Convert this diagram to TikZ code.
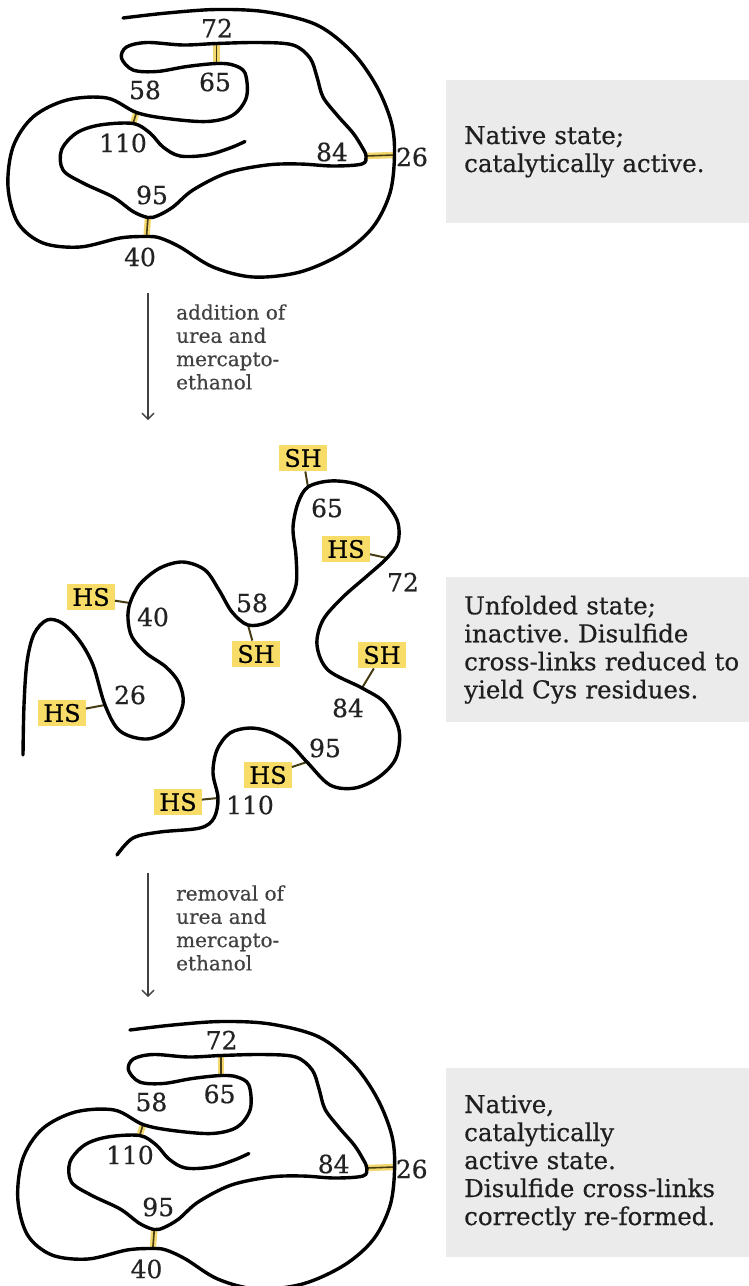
\documentclass[tikz,border=0pt]{standalone}
\usepackage{fontspec}
\setmainfont{DejaVu Serif}
\newfontfamily\printserif{DejaVu Serif}[FakeBold=0.5]
\usepackage{xcolor}
\usepackage{tikz}
\usetikzlibrary{arrows.meta, positioning}

\definecolor{boxgray}{RGB}{235,235,235}
\definecolor{thiol}{RGB}{247,221,104}
\definecolor{bridge}{RGB}{242,216,110}
\definecolor{olive}{RGB}{70,60,20}
\definecolor{numgray}{RGB}{35,35,35}
\definecolor{notegray}{RGB}{65,65,65}

% folded chain with its four disulfide bridges; #1 prefixes the names
\newcommand{\foldedchain}[1]{%
    \coordinate (#1-26) at (394.5,155);
    \coordinate (#1-84) at (366,156);
    \coordinate (#1-40) at (146.5,236.5);
    \coordinate (#1-95) at (148,217.5);
    \coordinate (#1-58) at (136.5,112.5);
    \coordinate (#1-110) at (133,123.5);
    \coordinate (#1-65) at (216.5,63.5);
    \coordinate (#1-72) at (216.5,43.5);
    % disulfide bridges
    \draw [ssbond] (#1-26) -- (#1-84);
    \draw [ssbond] (#1-40) -- (#1-95);
    \draw [ssbond] (#1-58) -- (#1-110);
    \draw [ssbond] (#1-65) -- (#1-72);
    % the chain
    \draw [chain] plot [smooth, tension=0.55] coordinates {
        (123,18) (167,13) (217,9.5) (267,12) (317,25) (353,53) (377,87)
        (391.5,123) (#1-26) (390,193) (373,227) (343,253) (300,272)
        (253,277) (213,267) (180,247) (160,238) (#1-40) (120,238) (80,247)
        (43,243) (18,223) (8,187) (13,147) (33,117) (67,100) (107,98)
        (#1-58) (167,118.5) (207,121.5) (233,115) (246.5,97) (245,73)
        (233,65) (#1-65) (187,66.5) (157,71.5) (133,70) (121.5,58)
        (126.5,47) (147,42.5) (183,45) (#1-72) (260,42.5) (293,45) (310,58)
        (317,77) (323,97) (337,115) (353,133) (362,147) (#1-84) (362,164)
        (333,166) (300,164) (267,165) (227,173) (193,190) (173,207)
        (158,215.5) (#1-95) (133,211.5) (113,197) (83,183) (63,170)
        (61.5,150) (76.5,133) (100,125) (#1-110) (150,133) (163,147)
        (180,156) (207,155) (230,148) (245,141.5)};
    % residue numbers
    \node [resnum] (#1-n72) at (217,28) {72};
    \node [resnum] (#1-n65) at (215,82) {65};
    \node [resnum] (#1-n58) at (145,90) {58};
    \node [resnum] (#1-n110) at (123,143) {110};
    \node [resnum] (#1-n84) at (332,152) {84};
    \node [resnum] (#1-n26) at (412,157) {26};
    \node [resnum] (#1-n95) at (152,195) {95};
    \node [resnum] (#1-n40) at (140,257) {40};
}

\begin{document}
\begin{tikzpicture}[x=1pt, y=-1pt,
    chain/.style={line width=3.4pt, line cap=round, black},
    ssbond/.style={draw=bridge, double=olive, double distance=1.6pt, line width=2.4pt},
    resnum/.style={font=\printserif\fontsize{25}{28}\selectfont, text=numgray, inner sep=0pt},
    thiol/.style={fill=thiol, font=\printserif\fontsize{24}{28}\selectfont, text height=17.5pt, text depth=0pt, inner xsep=5pt, inner ysep=4.5pt},
    tick/.style={draw=olive, line width=2pt},
    infobox/.style={fill=boxgray, anchor=north west, inner xsep=18pt, text width=300pt, align=left, font=\printserif\fontsize{24.5}{28}\selectfont, text=black!88},
    note/.style={anchor=west, inner sep=0pt, align=left, text=notegray, font=\printserif\fontsize{20}{23.3}\selectfont},
    react/.style={draw=notegray, line width=1.4pt, -{Straight Barb[length=6pt, width=12pt]}}]

    \useasboundingbox (0,0) rectangle (749,1286);

    % Native state
    \foldedchain{top}
    \node [infobox, minimum height=143pt] (native) at (446,80) {Native state;\\catalytically active.};

    % Denaturing step
    \coordinate (den-s) at (148,293);
    \coordinate (den-e) at (148,420);
    \draw [react] (den-s) -- (den-e);
    \node [note] (addition) at (176,347) {addition of\\urea and\\mercapto-\\ethanol};

    % Unfolded chain
    \coordinate (u26) at (105,705);
    \coordinate (u40) at (130,603);
    \coordinate (u58) at (248,625);
    \coordinate (u65) at (308,487);
    \coordinate (u72) at (387,558);
    \coordinate (u84) at (362,688);
    \coordinate (u95) at (307,762);
    \coordinate (u110) at (218,798);

    % free thiol groups
    \node [thiol] (sh65) at (303,458) {SH};
    \node [thiol] (hs72) at (346,549) {HS};
    \node [thiol] (hs40) at (91,597) {HS};
    \node [thiol] (sh58) at (256,654) {SH};
    \node [thiol] (hs26) at (62,713) {HS};
    \node [thiol] (sh84) at (382,655) {SH};
    \node [thiol] (hs95) at (268,775) {HS};
    \node [thiol] (hs110) at (178,802) {HS};
    \draw [tick] (u65) -- (sh65);
    \draw [tick] (u72) -- (hs72);
    \draw [tick] (u40) -- (hs40);
    \draw [tick] (u58) -- (sh58);
    \draw [tick] (u26) -- (hs26);
    \draw [tick] (u84) -- (sh84);
    \draw [tick] (u95) -- (hs95);
    \draw [tick] (u110) -- (hs110);

    \draw [chain] plot [smooth, tension=0.55] coordinates {
        (23,755) (24,705) (27,662) (34,634) (47,620) (62,623) (79,640)
        (93,665) (u26) (120,731) (147,739) (171,728) (183,704) (179,683)
        (166,667) (146,653) (132,637) (128,619) (u40) (140,584) (160,568)
        (183,562) (205,570) (219,590) (232,612) (u58) (268,622) (286,607)
        (296,585) (296,556) (293,528) (298,503) (u65) (330,481) (356,484)
        (380,497) (397,520) (398,542) (u72) (367,576) (343,597) (323,620)
        (317,645) (328,670) (u84) (385,703) (399,730) (396,758) (379,777)
        (355,788) (330,785) (u95) (290,744) (270,732) (250,728) (230,733)
        (217,750) (213,773) (u110) (214,818) (200,828) (160,832) (133,838)
        (117,855)};

    \node [resnum] (n65) at (327,508) {65};
    \node [resnum] (n72) at (403,582) {72};
    \node [resnum] (n40) at (153,617) {40};
    \node [resnum] (n58) at (252,603) {58};
    \node [resnum] (n26) at (130,695) {26};
    \node [resnum] (n84) at (348,708) {84};
    \node [resnum] (n95) at (325,748) {95};
    \node [resnum] (n110) at (250,805) {110};

    \node [infobox, minimum height=145pt] (unfolded) at (446,577) {Unfolded state;\\inactive.\ Disulfide\\cross-links reduced to\\yield Cys residues.};

    % Refolding step
    \coordinate (ref-s) at (148,873);
    \coordinate (ref-e) at (148,997);
    \draw [react] (ref-s) -- (ref-e);
    \node [note] (removal) at (176,928) {removal of\\urea and\\mercapto-\\ethanol};

    % Refolded chain
    \begin{scope}[shift={(10,1012)}, xscale=0.975]
        \foldedchain{bot}
    \end{scope}
    \node [infobox, minimum height=189pt] (refolded) at (446,1068) {Native,\\catalytically\\active state.\\Disulfide cross-links\\correctly re-formed.};
\end{tikzpicture}
\end{document}
